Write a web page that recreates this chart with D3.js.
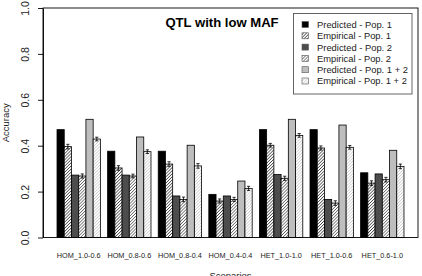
<!DOCTYPE html>
<html><head><meta charset="utf-8">
<script src="https://cdn.jsdelivr.net/npm/d3@7"></script>
<style>html,body{margin:0;padding:0;background:#fff;}svg{display:block;font-family:"Liberation Sans",Arial,sans-serif;}</style>
</head><body>
<script>
const categories = ["HOM_1.0-0.6","HOM_0.8-0.6","HOM_0.8-0.4","HOM_0.4-0.4","HET_1.0-1.0","HET_1.0-0.6","HET_0.6-1.0"];
const seriesNames = ["Predicted - Pop. 1","Empirical - Pop. 1","Predicted - Pop. 2","Empirical - Pop. 2","Predicted - Pop. 1 + 2","Empirical - Pop. 1 + 2"];
const predPop1  = [0.470,0.376,0.376,0.188,0.470,0.470,0.282];
const empPop1   = [0.396,0.303,0.320,0.159,0.402,0.390,0.237];
const predPop2  = [0.272,0.272,0.181,0.181,0.275,0.166,0.277];
const empPop2   = [0.268,0.268,0.166,0.166,0.258,0.150,0.252];
const predPop12 = [0.515,0.438,0.402,0.246,0.515,0.490,0.380];
const empPop12  = [0.429,0.374,0.312,0.214,0.445,0.393,0.310];
const errPop1   = [0.010,0.010,0.010,0.009,0.008,0.009,0.010];
const errPop2   = [0.009,0.008,0.010,0.009,0.009,0.010,0.010];
const errPop12  = [0.008,0.008,0.010,0.009,0.008,0.008,0.010];
const yTicks = [0,0.2,0.4,0.6,0.8,1.0];

const values = [predPop1, empPop1, predPop2, empPop2, predPop12, empPop12];
const errors = [null, errPop1, null, errPop2, null, errPop12];
const fills = ["#000000","url(#h1)","#4d4d4d","url(#h2)","#bebebe","url(#h3)"];

const W = 422, H = 276;
const L = 43, R = 418, T = 8, B = 237.5;
const svg = d3.select("body").append("svg").attr("width", W).attr("height", H);
const defs = svg.append("defs");
[["h1","#333333"],["h2","#555555"],["h3","#c8c8c8"]].forEach(([id,c]) => {
  const s = 2.2;
  const p = defs.append("pattern").attr("id", id).attr("patternUnits","userSpaceOnUse")
    .attr("width", s).attr("height", s).attr("patternTransform","rotate(45)");
  p.append("rect").attr("width",s).attr("height",s).attr("fill","#fff");
  p.append("line").attr("x1",0.4).attr("x2",0.4).attr("y1",0).attr("y2",s).attr("stroke",c).attr("stroke-width",0.7);
});

const x0 = d3.scaleBand().domain(categories).range([L, R]).paddingInner(1/7).paddingOuter(0.277);
const x1 = d3.scaleBand().domain(d3.range(6)).range([0, x0.bandwidth()]);
const y = d3.scaleLinear().domain([0, 1]).range([B, T]);

// bars
const g = svg.append("g");
categories.forEach((cat, ci) => {
  values.forEach((vals, si) => {
    const bx = x0(cat) + x1(si);
    g.append("rect").attr("x", bx).attr("y", y(vals[ci])).attr("width", x1.bandwidth())
      .attr("height", y(0) - y(vals[ci])).attr("fill", fills[si]).attr("stroke", "#000").attr("stroke-width", 0.8);
    if (errors[si]) {
      const cx = bx + x1.bandwidth()/2, e = errors[si][ci];
      const eg = g.append("g").attr("stroke","#000").attr("stroke-width",0.8);
      eg.append("line").attr("x1",cx).attr("x2",cx).attr("y1",y(vals[ci]-e)).attr("y2",y(vals[ci]+e));
      eg.append("line").attr("x1",cx-1.6).attr("x2",cx+1.6).attr("y1",y(vals[ci]-e)).attr("y2",y(vals[ci]-e));
      eg.append("line").attr("x1",cx-1.6).attr("x2",cx+1.6).attr("y1",y(vals[ci]+e)).attr("y2",y(vals[ci]+e));
    }
  });
});

// box
svg.append("rect").attr("x", L).attr("y", T).attr("width", R - L).attr("height", B - T)
  .attr("fill","none").attr("stroke","#000").attr("stroke-width",0.9);

// y axis
const yAxis = svg.append("g").attr("transform", `translate(${L},0)`)
  .call(d3.axisLeft(y).tickValues(yTicks).tickFormat(d3.format(".1f")).tickSize(5).tickSizeOuter(0));
yAxis.select(".domain").attr("stroke","#000").attr("stroke-width",0.9);
yAxis.selectAll(".tick line").attr("stroke","#000").attr("stroke-width",0.9);
yAxis.selectAll(".tick text").attr("font-size", 10.5).attr("fill","#222")
  .attr("transform","rotate(-90)").attr("x", 0).attr("y", -14).attr("dy", 0).attr("text-anchor","middle")
  .style("font-family","Liberation Sans, Arial, sans-serif");

// x labels
const xAxis = svg.append("g").attr("transform", `translate(0,${B})`)
  .call(d3.axisBottom(x0).tickSize(0).tickPadding(0));
xAxis.select(".domain").remove();
xAxis.selectAll(".tick text").attr("font-size", 7.3).attr("fill","#222").attr("y", 20.5).attr("dy", 0)
  .style("font-family","Liberation Sans, Arial, sans-serif");

// axis titles
svg.append("text").attr("x", (L+R)/2).attr("y", 279).attr("text-anchor","middle")
  .attr("font-size", 9.5).attr("fill","#222").text("Scenarios");
svg.append("text").attr("transform", `translate(9,${(T+B)/2}) rotate(-90)`).attr("text-anchor","middle")
  .attr("font-size", 9.5).attr("fill","#222").text("Accuracy");

// title
svg.append("text").attr("x", 222).attr("y", 26.5).attr("text-anchor","middle")
  .attr("font-size", 13.1).attr("font-weight","bold").attr("fill","#000").text("QTL with low MAF");

// legend
const lg = svg.append("g");
lg.append("rect").attr("x", 293.5).attr("y", 13.5).attr("width", 118.5).attr("height", 80.5)
  .attr("fill","#fff").attr("stroke","#555").attr("stroke-width",0.9);
seriesNames.forEach((name, i) => {
  const cy = 24.5 + i * 11.3;
  lg.append("rect").attr("x", 302).attr("y", cy - 3).attr("width", 6.5).attr("height", 6)
    .attr("fill", fills[i]).attr("stroke", "#555").attr("stroke-width", 0.6);
  lg.append("text").attr("x", 317).attr("y", cy + 3.4).attr("font-size", 9.4).attr("fill","#222").text(name);
});
</script>
</body></html>
